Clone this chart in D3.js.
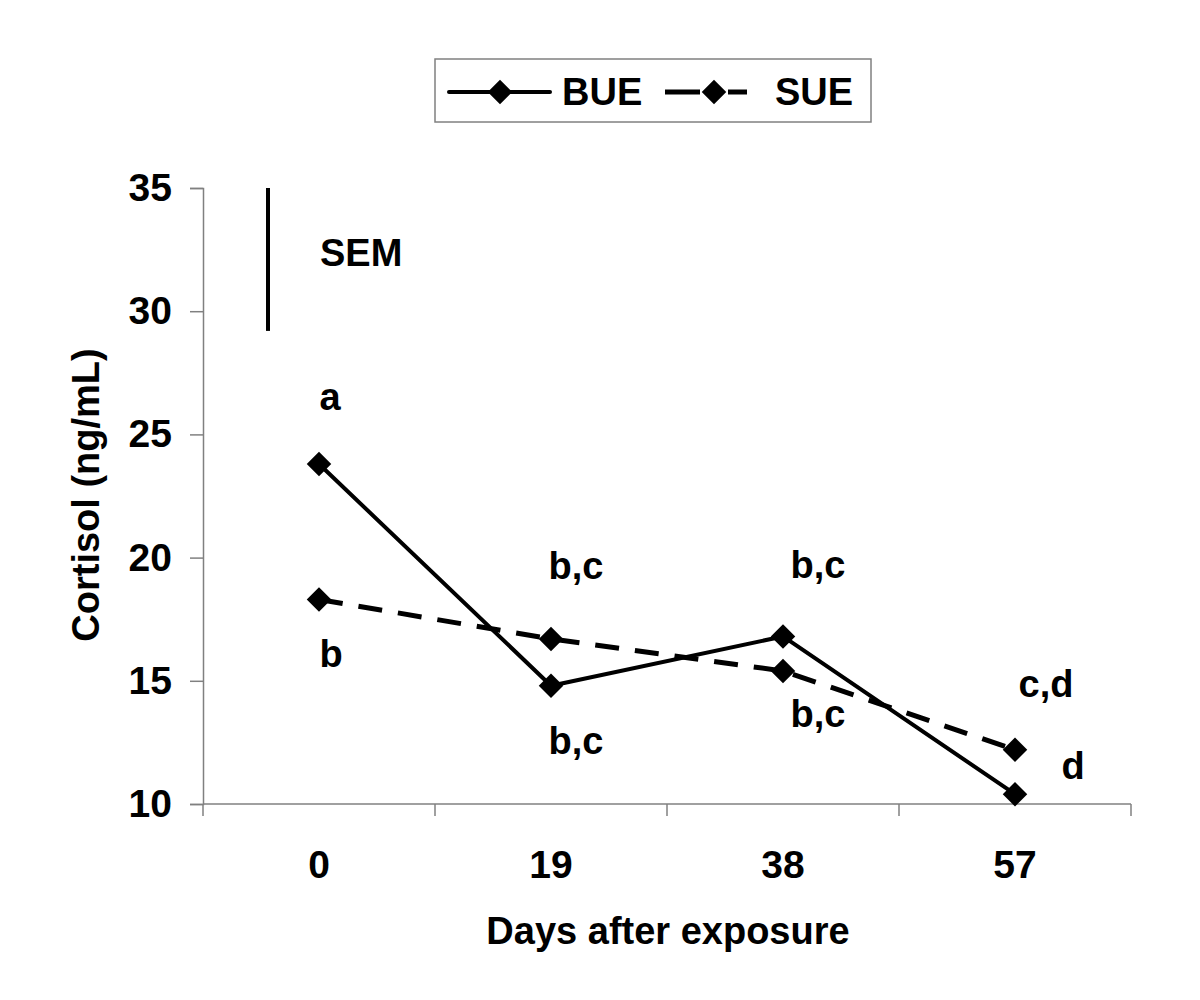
<!DOCTYPE html>
<html>
<head>
<meta charset="utf-8">
<script src="https://cdn.jsdelivr.net/npm/d3@7/dist/d3.min.js"></script>
<style>
  body { margin: 0; background: #fff; }
  text { font-family: "Liberation Sans", Arial, sans-serif; font-weight: bold; fill: #000; }
</style>
</head>
<body>
<svg id="chart" width="1200" height="1000"></svg>
<script>
// data
const days = ['0', '19', '38', '57'];
const bue = [23.8, 14.8, 16.8, 10.4];
const sue = [18.3, 16.7, 15.4, 12.2];
const bueLetters = ['a', 'b,c', 'b,c', 'd'];
const sueLetters = ['b', 'b,c', 'b,c', 'c,d'];
const yTicks = [10, 15, 20, 25, 30, 35];
const sem = [29.2, 35]; // SEM bar extent

const fontSize = 38;
const tickFontSize = 39;
const axisColor = '#808080';

const svg = d3.select('#chart');

// plot area
const plotLeft = 203;
const plotRight = 1131;
const plotTop = 188;
const plotBottom = 804;

const x = d3.scaleBand().domain(days).range([plotLeft, plotRight]);
const y = d3.scaleLinear().domain([10, 35]).range([plotBottom, plotTop]);
const cx = (d) => x(d) + x.bandwidth() / 2;

// y axis
const yAxis = svg.append('g')
  .attr('transform', `translate(${plotLeft},0)`)
  .call(d3.axisLeft(y).tickValues(yTicks).tickSize(13).tickPadding(18));
yAxis.select('.domain').attr('stroke', axisColor).attr('stroke-width', 1.5);
yAxis.selectAll('.tick line').attr('stroke', axisColor).attr('stroke-width', 1.5);
yAxis.selectAll('.tick text')
  .style('font-size', `${tickFontSize}px`)
  .style('font-family', '"Liberation Sans", Arial, sans-serif')
  .style('font-weight', 'bold')
  .attr('fill', '#000');

// x axis: ticks sit at band edges
const xAxis = svg.append('g')
  .attr('transform', `translate(0,${plotBottom})`);
xAxis.append('line')
  .attr('x1', plotLeft).attr('x2', plotRight)
  .attr('stroke', axisColor).attr('stroke-width', 1.5);
xAxis.selectAll('line.edge')
  .data(days.map((d) => x(d)).concat([plotRight]))
  .enter()
  .append('line')
  .attr('class', 'edge')
  .attr('x1', (d) => d).attr('x2', (d) => d)
  .attr('y1', 0).attr('y2', 12)
  .attr('stroke', axisColor).attr('stroke-width', 1.5);
xAxis.selectAll('text')
  .data(days)
  .enter()
  .append('text')
  .attr('x', cx)
  .attr('y', 74)
  .attr('text-anchor', 'middle')
  .style('font-size', `${tickFontSize}px`)
  .text((d) => d);

// axis titles
svg.append('text')
  .attr('x', 668)
  .attr('y', 944)
  .attr('text-anchor', 'middle')
  .style('font-size', `${fontSize}px`)
  .text('Days after exposure');

svg.append('text')
  .attr('transform', 'translate(99,495) rotate(-90)')
  .attr('text-anchor', 'middle')
  .style('font-size', `${fontSize}px`)
  .text('Cortisol (ng/mL)');

// SEM bar
svg.append('line')
  .attr('x1', 268).attr('x2', 268)
  .attr('y1', y(sem[1])).attr('y2', y(sem[0]))
  .attr('stroke', '#000').attr('stroke-width', 4);
svg.append('text')
  .attr('x', 320)
  .attr('y', 266)
  .style('font-size', `${fontSize}px`)
  .text('SEM');

// series
const diamond = d3.symbol().type(d3.symbolSquare).size(300);
const line = d3.line().x((d, i) => cx(days[i])).y((d) => y(d));

const series = [
  { name: 'BUE', values: bue, dash: null },
  { name: 'SUE', values: sue, dash: '24,16' },
];

series.forEach((s) => {
  svg.append('path')
    .attr('d', line(s.values))
    .attr('fill', 'none')
    .attr('stroke', '#000')
    .attr('stroke-width', s.dash ? 5 : 4)
    .attr('stroke-dasharray', s.dash);
  svg.selectAll(null)
    .data(s.values)
    .enter()
    .append('path')
    .attr('d', diamond)
    .attr('transform', (d, i) => `translate(${cx(days[i])},${y(d)}) rotate(45)`)
    .attr('fill', '#000');
});

// significance letters, offsets in px from each marker
const bueOffsets = [[11, -54], [25, 68], [35, -58], [58, -15]];
const sueOffsets = [[12, 68], [25, -60], [35, 56], [31, -53]];

function letters(values, labels, offsets) {
  svg.selectAll(null)
    .data(values)
    .enter()
    .append('text')
    .attr('x', (d, i) => cx(days[i]) + offsets[i][0])
    .attr('y', (d, i) => y(d) + offsets[i][1])
    .attr('text-anchor', 'middle')
    .style('font-size', `${fontSize}px`)
    .text((d, i) => labels[i]);
}
letters(bue, bueLetters, bueOffsets);
letters(sue, sueLetters, sueOffsets);

// legend
const legend = svg.append('g');
legend.append('rect')
  .attr('x', 435).attr('y', 59)
  .attr('width', 436).attr('height', 63)
  .attr('fill', '#fff')
  .attr('stroke', axisColor).attr('stroke-width', 1.5);

const legendItems = [
  { name: 'BUE', x1: 449, x2: 550, mid: 500, tx: 562, dashed: false },
  { name: 'SUE', x1: 665, x2: 747, mid: 714, tx: 775, dashed: true },
];
legendItems.forEach((it) => {
  if (it.dashed) {
    legend.append('line')
      .attr('x1', it.x1).attr('x2', it.mid - 14)
      .attr('y1', 92).attr('y2', 92)
      .attr('stroke', '#000').attr('stroke-width', 5);
    legend.append('line')
      .attr('x1', it.mid + 14).attr('x2', it.x2)
      .attr('y1', 92).attr('y2', 92)
      .attr('stroke', '#000').attr('stroke-width', 5);
  } else {
    legend.append('line')
      .attr('x1', it.x1).attr('x2', it.x2)
      .attr('y1', 92).attr('y2', 92)
      .attr('stroke', '#000').attr('stroke-width', 4)
      .attr('stroke-linecap', 'round');
  }
  legend.append('path')
    .attr('d', diamond)
    .attr('transform', `translate(${it.mid},92) rotate(45)`)
    .attr('fill', '#000');
  legend.append('text')
    .attr('x', it.tx)
    .attr('y', 105)
    .style('font-size', `${fontSize}px`)
    .text(it.name);
});
</script>
</body>
</html>
